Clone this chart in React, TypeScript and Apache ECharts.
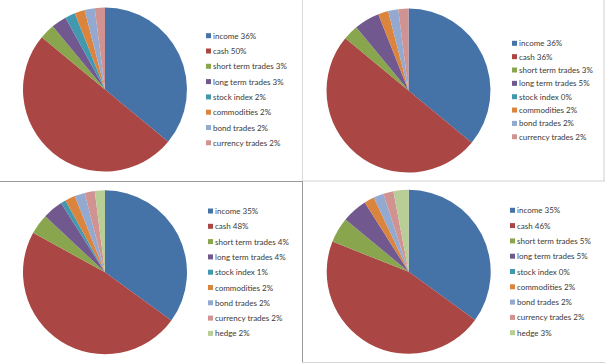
import React, { useEffect, useRef } from "react";
import * as echarts from "echarts";

// ---- data ----
const panel1Labels = ["income 36%", "cash 50%", "short term trades 3%", "long term trades 3%", "stock index 2%", "commodities 2%", "bond trades 2%", "currency trades 2%"];
const panel1Values = [36, 50, 3, 3, 2, 2, 2, 2];

const panel2Labels = ["income 36%", "cash 36%", "short term trades 3%", "long term trades 5%", "stock index 0%", "commodities 2%", "bond trades 2%", "currency trades 2%"];
const panel2Values = [36, 50, 3, 5, 0, 2, 2, 2];

const panel3Labels = ["income 35%", "cash 48%", "short term trades 4%", "long term trades 4%", "stock index 1%", "commodities 2%", "bond trades 2%", "currency trades 2%", "hedge 2%"];
const panel3Values = [35, 48, 4, 4, 1, 2, 2, 2, 2];

const panel4Labels = ["income 35%", "cash 46%", "short term trades 5%", "long term trades 5%", "stock index 0%", "commodities 2%", "bond trades 2%", "currency trades 2%", "hedge 3%"];
const panel4Values = [35, 46, 5, 5, 0, 2, 2, 2, 3];

// ---- styles / layout ----
const palette = ["#4572A7", "#AA4643", "#89A54E", "#71588F", "#4198AF", "#DB843D", "#93A9CF", "#D19392", "#B9CD96"];

const layouts = [
  { cx: 105, cy: 89.5, lx: 206, ly: 30.7, gap: 5.3 },
  { cx: 408.5, cy: 90.5, lx: 512, ly: 38.3, gap: 3.35 },
  { cx: 105, cy: 272.3, lx: 208, ly: 206, gap: 5.3 },
  { cx: 408.7, cy: 271.8, lx: 510, ly: 205.3, gap: 5.3 },
];

const panels = [
  { labels: panel1Labels, values: panel1Values },
  { labels: panel2Labels, values: panel2Values },
  { labels: panel3Labels, values: panel3Values },
  { labels: panel4Labels, values: panel4Values },
];

export default function App() {
  const ref = useRef<HTMLDivElement>(null);
  useEffect(() => {
    if (!ref.current) return;
    const chart = echarts.init(ref.current, null, { renderer: "svg" });
    const line = (x1: number, y1: number, x2: number, y2: number, stroke: string) => ({
      type: "line",
      shape: { x1, y1, x2, y2 },
      style: { stroke, lineWidth: 1 },
      silent: true,
    });
    const option: any = {
      animation: false,
      backgroundColor: "#ffffff",
      series: panels.map((p, k) => ({
        type: "pie",
        center: [layouts[k].cx, layouts[k].cy],
        radius: 82,
        startAngle: 90,
        clockwise: true,
        silent: true,
        label: { show: false },
        labelLine: { show: false },
        itemStyle: { borderWidth: 0 },
        emphasis: { disabled: true },
        data: p.labels.map((n, i) => ({ name: n, value: p.values[i], itemStyle: { color: palette[i] } })),
      })),
      legend: panels.map((p, k) => ({
        orient: "vertical",
        left: layouts[k].lx,
        top: layouts[k].ly,
        padding: 0,
        itemGap: layouts[k].gap,
        itemWidth: 5,
        itemHeight: 5,
        icon: "rect",
        selectedMode: false,
        data: p.labels,
        textStyle: {
          fontFamily: "Lato",
          fontSize: 8,
          color: "#3a3a3a",
          lineHeight: 10,
          padding: [0, 0, 0, -3],
        },
      })),
      graphic: [
        line(0, 181.5, 302, 181.5, "#9a9a9a"),
        line(302, 181, 605, 181, "#d4d4d4"),
        line(302.5, 0, 302.5, 181, "#d9d9d9"),
        line(302.5, 181, 302.5, 363, "#9a9a9a"),
        line(604, 0, 604, 181, "#d0d0d0"),
        line(302, 362.5, 605, 362.5, "#d6d6d6"),
      ],
    };
    chart.setOption(option);
    return () => chart.dispose();
  }, []);
  return (
    <div
      ref={ref}
      style={{ position: "absolute", left: 0, top: 0, width: 605, height: 363, background: "#fff" }}
    />
  );
}
